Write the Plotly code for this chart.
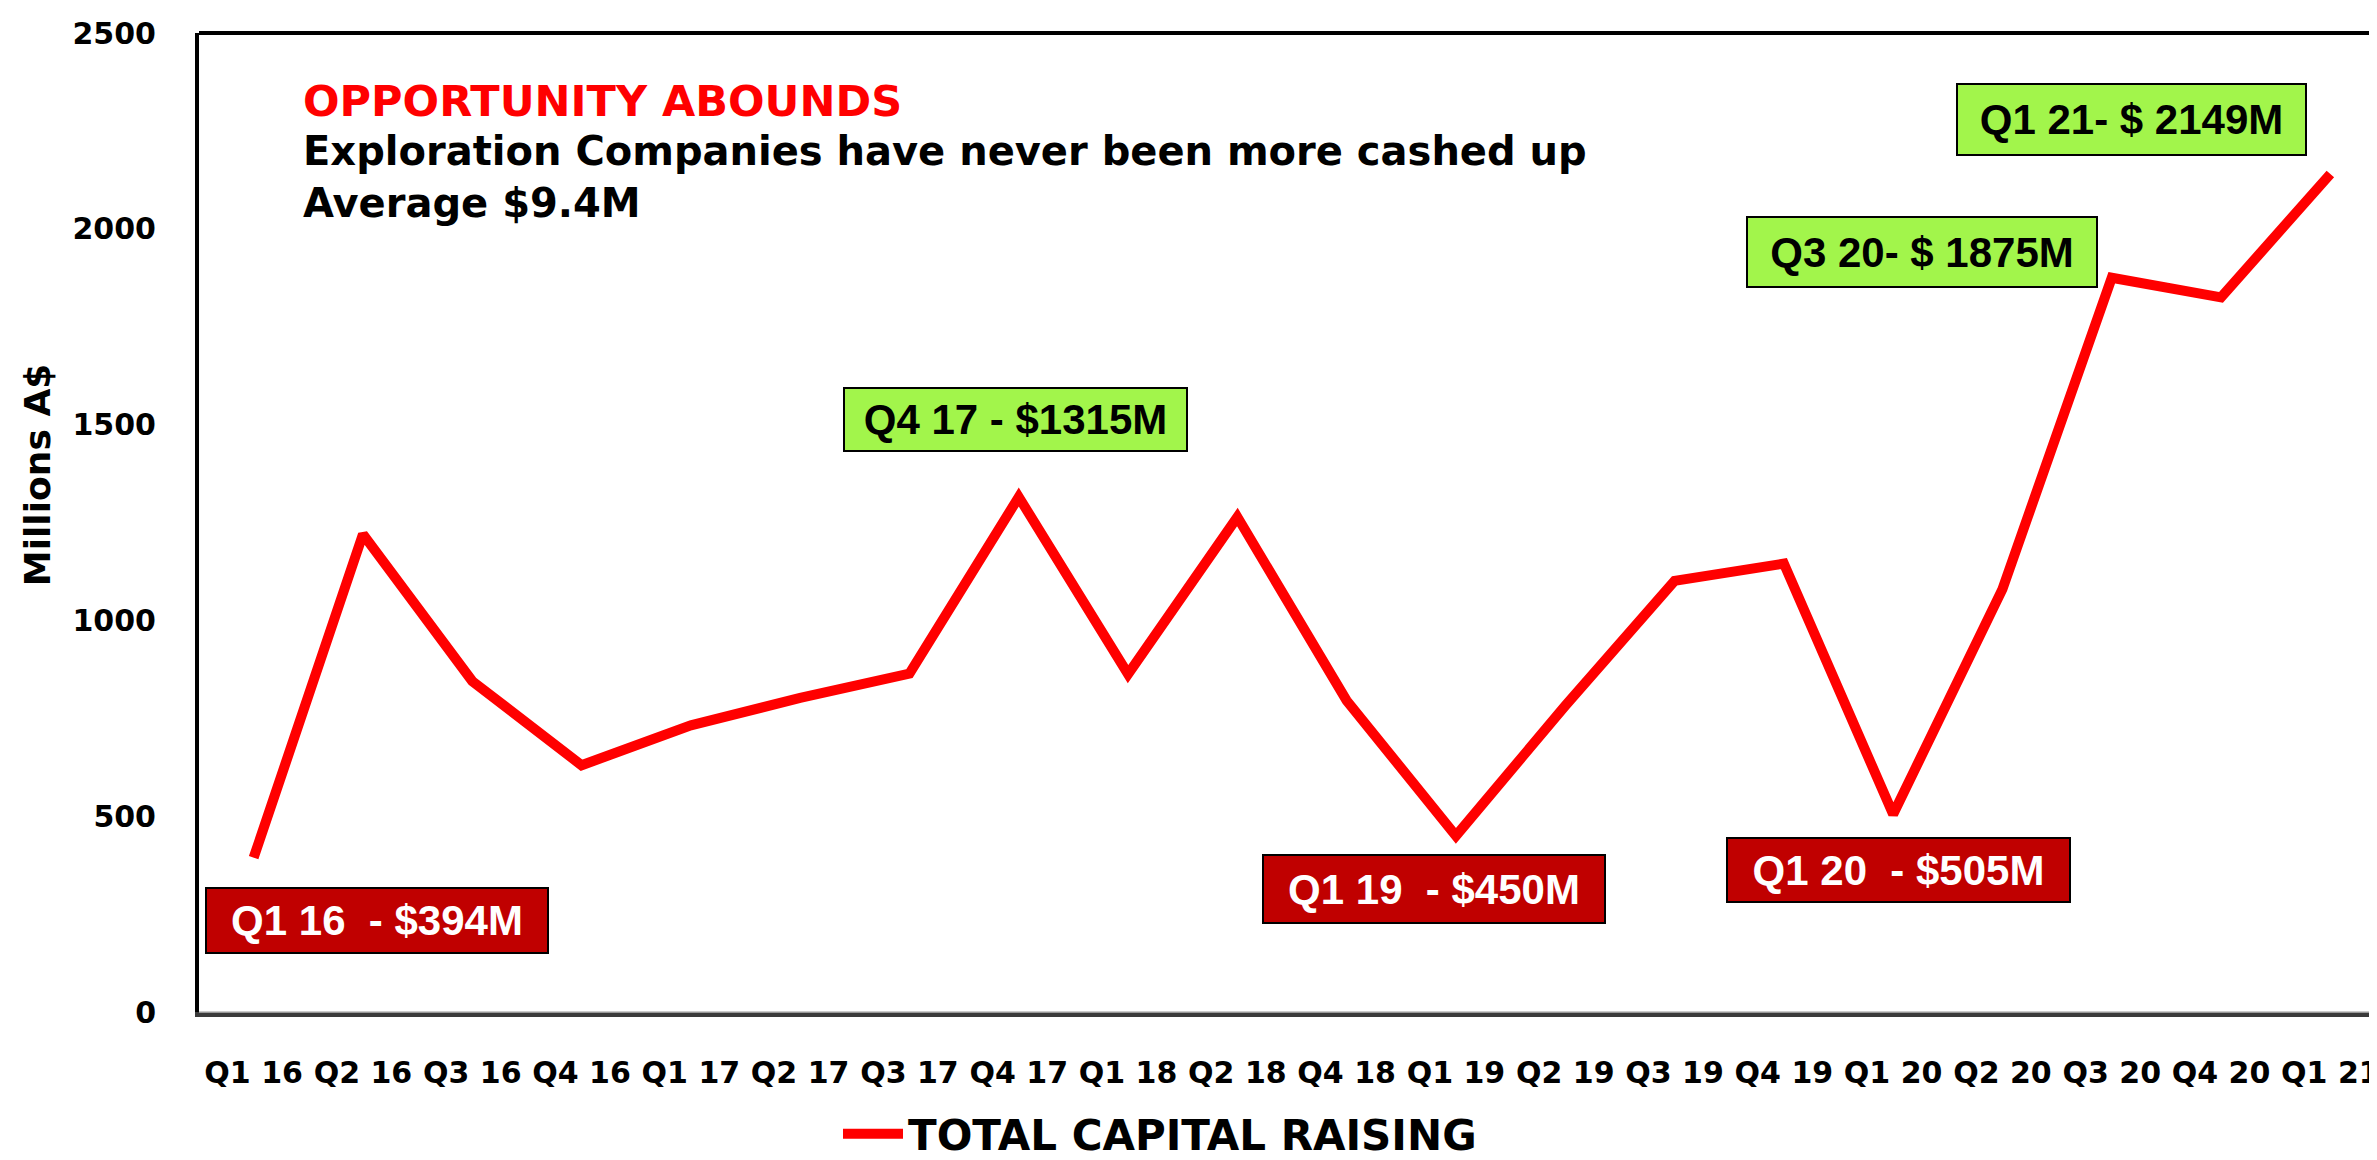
import plotly.graph_objects as go

# ---- data ----
quarters = ["Q1 16", "Q2 16", "Q3 16", "Q4 16", "Q1 17", "Q2 17", "Q3 17", "Q4 17",
            "Q1 18", "Q2 18", "Q4 18", "Q1 19", "Q2 19", "Q3 19", "Q4 19", "Q1 20",
            "Q2 20", "Q3 20", "Q4 20", "Q1 21"]
capital_raising = [394, 1220, 845, 630, 732, 802, 864, 1315,
                   863, 1264, 795, 450, 782, 1101, 1145, 505,
                   1080, 1875, 1825, 2140]
y_ticks = [0, 500, 1000, 1500, 2000, 2500]
series_name = "TOTAL CAPITAL RAISING"
y_title = "Millions A$"
headline = "OPPORTUNITY ABOUNDS"
sub_lines = ["Exploration Companies have never been more cashed up", "Average $9.4M"]
callouts = [
    ("Q1 16\u00a0 - $394M", "low"),
    ("Q4 17 - $1315M", "high"),
    ("Q1 19\u00a0 - $450M", "low"),
    ("Q1 20\u00a0 - $505M", "low"),
    ("Q3 20- $ 1875M", "high"),
    ("Q1 21- $ 2149M", "high"),
]

# ---- layout geometry (pixels) ----
W, H = 2377, 1160
L, T, B = 191, 25, 143
PW = W - L
PH = H - T - B
BOTTOM = T + PH

def px(x, y):
    return (x - L) / PW, (BOTTOM - y) / PH

# callout box pixel extents (x0, x1, y0, y1)
callout_boxes = [
    (197, 541, 891, 958),
    (835, 1180, 384, 449),
    (1254, 1598, 857, 927),
    (1718, 2063, 840, 906),
    (1738, 2090, 211, 283),
    (1948, 2299, 76, 149),
]

BOLD = "DejaVu Sans"
fig = go.Figure()
fig.add_trace(go.Scatter(
    x=list(range(len(quarters))), y=capital_raising, mode="lines",
    name=series_name, line=dict(color="#FF0000", width=10),
))

annotations = []
hx, hy = px(293, 94)
annotations.append(dict(text=headline, x=hx, y=hy, xref="paper", yref="paper",
                        xanchor="left", yanchor="middle", showarrow=False,
                        font=dict(family=BOLD, size=43, color="#FF0000", weight="bold")))
for txt, yy in zip(sub_lines, [145, 197]):
    ax, ay = px(293, yy)
    annotations.append(dict(text=txt, x=ax, y=ay, xref="paper", yref="paper",
                            xanchor="left", yanchor="middle", showarrow=False,
                            font=dict(family=BOLD, size=40, color="#000000", weight="bold")))
for (txt, kind), (x0, x1, y0, y1) in zip(callouts, callout_boxes):
    cx, cy = px((x0 + x1) / 2, (y0 + y1) / 2)
    bg = "#A2F54B" if kind == "high" else "#C00000"
    fc = "#000000" if kind == "high" else "#FFFFFF"
    annotations.append(dict(text=txt, x=cx, y=cy, xref="paper", yref="paper",
                            xanchor="center", yanchor="middle", showarrow=False,
                            width=x1 - x0 - 4, height=y1 - y0 - 4,
                            bgcolor=bg, bordercolor="#000000", borderwidth=2, borderpad=0,
                            font=dict(family="Liberation Sans", size=42, color=fc,
                                      weight="bold")))
tx, ty = px(29, 473)
annotations.append(dict(text=y_title, x=tx, y=ty, xref="paper", yref="paper",
                        xanchor="center", yanchor="middle", textangle=-90, showarrow=False,
                        font=dict(family=BOLD, size=36, color="#000000", weight="bold")))

shapes = [
    dict(type="line", xref="paper", yref="paper", x0=0, x1=1.01, y0=1, y1=1,
         line=dict(color="#000000", width=4)),
    dict(type="line", xref="paper", yref="paper", x0=0, x1=1.01, y0=0, y1=0,
         line=dict(color="#B8B8B8", width=1.5), layer="above"),
]

fig.update_layout(
    width=W, height=H,
    margin=dict(l=L, r=0, t=T, b=B, pad=0),
    paper_bgcolor="white", plot_bgcolor="white",
    showlegend=True,
    legend=dict(orientation="h", x=(830 - L) / PW, xanchor="left",
                y=(BOTTOM - 1141) / PH, yanchor="middle",
                font=dict(family=BOLD, size=42, color="#000000", weight="bold"),
                itemwidth=60, bgcolor="rgba(0,0,0,0)"),
    annotations=annotations,
    shapes=shapes,
    xaxis=dict(range=[-0.5, len(quarters) - 0.5], tickmode="array",
               tickvals=list(range(len(quarters))), ticktext=quarters,
               showgrid=False, zeroline=False, showline=True, linecolor="#3A3A3A", linewidth=5,
               ticks="", ticklabelstandoff=30, ticklabeloverflow="allow",
               tickfont=dict(family=BOLD, size=30, color="#000000", weight="bold"),
               fixedrange=True),
    yaxis=dict(range=[0, 2500], tickmode="array", tickvals=y_ticks,
               ticktext=[str(v) for v in y_ticks],
               showgrid=False, zeroline=False, showline=True, linecolor="#000000", linewidth=4,
               ticks="", ticklabelstandoff=33,
               tickfont=dict(family=BOLD, size=30, color="#000000", weight="bold"),
               fixedrange=True),
)

fig.write_html("out.html")
